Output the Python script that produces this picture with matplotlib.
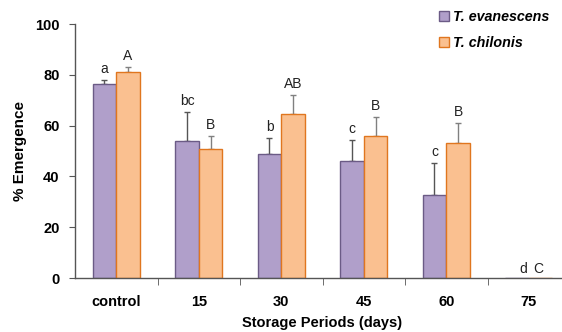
import matplotlib
matplotlib.use("Agg")
import matplotlib.pyplot as plt
import numpy as np

plt.rcParams['font.family'] = ['Liberation Sans', 'DejaVu Sans']

categories = ["control", "15", "30", "45", "60", "75"]
evanescens = [76.3, 54.1, 48.8, 46.2, 32.7, 0]
evanescens_err = [1.5, 11.1, 6.4, 8.0, 12.7, 0]
chilonis = [81.1, 50.8, 64.6, 56.0, 53.0, 0]
chilonis_err = [2.1, 5.1, 7.4, 7.5, 7.9, 0]
letters_ev = ["a", "bc", "b", "c", "c", "d"]
letters_ch = ["A", "B", "AB", "B", "B", "C"]

fig = plt.figure(figsize=(5.62, 3.32), dpi=100)
ax = fig.add_axes([75/562, 1-278/332, 495/562, 254/332])

x = np.arange(len(categories))
w = 0.285
c_ev, e_ev = "#B09FCA", "#6B5B86"
c_ch, e_ch = "#FAC090", "#E0761F"

b1 = ax.bar(x - w/2, evanescens, w, color=c_ev, edgecolor=e_ev, linewidth=1.0,
            label="T. evanescens", zorder=2)
b2 = ax.bar(x + w/2, chilonis, w, color=c_ch, edgecolor=e_ch, linewidth=1.0,
            label="T. chilonis", zorder=2)

for i in range(len(categories)):
    if evanescens_err[i] > 0:
        ax.errorbar(x[i] - w/2, evanescens[i], yerr=[[0], [evanescens_err[i]]],
                    fmt="none", ecolor="#555555", elinewidth=1.0, capsize=2.5, zorder=1)
    if chilonis_err[i] > 0:
        ax.errorbar(x[i] + w/2, chilonis[i], yerr=[[0], [chilonis_err[i]]],
                    fmt="none", ecolor="#808080", elinewidth=1.0, capsize=2.5, zorder=1)

lf = 10
for i in range(len(categories)):
    if evanescens[i] > 0:
        ax.annotate(letters_ev[i], (x[i] - w/2, evanescens[i] + evanescens_err[i]),
                    xytext=(0, 3), textcoords="offset points", ha="center", va="bottom",
                    fontsize=lf, color="#222222")
        ax.annotate(letters_ch[i], (x[i] + w/2, chilonis[i] + chilonis_err[i]),
                    xytext=(0, 3), textcoords="offset points", ha="center", va="bottom",
                    fontsize=lf, color="#222222")
    else:
        ax.annotate(letters_ev[i], (x[i] - w/2 + 0.07, 0),
                    xytext=(0, 1.5), textcoords="offset points", ha="center", va="bottom",
                    fontsize=lf, color="#222222")
        ax.annotate(letters_ch[i], (x[i] + w/2 - 0.03, 0),
                    xytext=(0, 1.5), textcoords="offset points", ha="center", va="bottom",
                    fontsize=lf, color="#222222")

ax.set_xlim(-0.5, len(categories) - 0.5)
ax.set_ylim(0, 100)
ax.set_yticks([0, 20, 40, 60, 80, 100])
ax.set_xticks(x)
ax.set_xticklabels(categories, fontweight="bold", fontsize=10.5)
ax.tick_params(axis="x", length=0, pad=12)
ax.set_xticks(np.arange(0.5, len(categories) - 0.5, 1), minor=True)
ax.tick_params(axis="x", which="minor", length=5, direction="out", color="#555555")
ax.tick_params(axis="y", length=4, direction="out", color="#555555", pad=7)
for lbl in ax.get_yticklabels():
    lbl.set_fontweight("bold")
    lbl.set_fontsize(10.5)

for s in ["top", "right"]:
    ax.spines[s].set_visible(False)
for s in ["left", "bottom"]:
    ax.spines[s].set_color("#555555")
    ax.spines[s].set_linewidth(1.0)

ax.set_ylabel("% Emergence", fontweight="bold", fontsize=11, labelpad=6)
ax.set_xlabel("Storage Periods (days)", fontweight="bold", fontsize=10.5, labelpad=5)

leg = fig.legend(handles=[b1, b2], loc="upper left", bbox_to_anchor=(433/562, 1 - 4/332),
                 frameon=False, fontsize=10.3, handlelength=0.7, handleheight=0.7,
                 handletextpad=0.3, labelspacing=0.85, borderaxespad=0)
for t in leg.get_texts():
    t.set_fontweight("bold")
    t.set_fontstyle("italic")

fig.savefig("out.png", dpi=100)
